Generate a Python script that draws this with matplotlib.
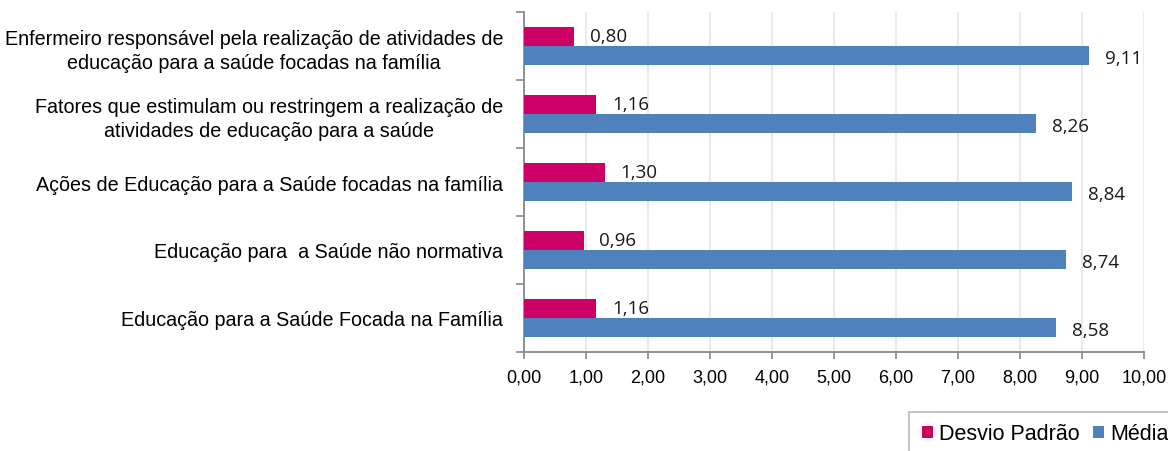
import matplotlib
matplotlib.use("Agg")
import matplotlib.pyplot as plt
import numpy as np
from matplotlib import font_manager
from matplotlib.patches import Rectangle

categories = [
    "Enfermeiro responsável pela realização de atividades de\neducação para a saúde focadas na família",
    "Fatores que estimulam ou restringem a realização de\natividades de educação para a saúde",
    "Ações de Educação para a Saúde focadas na família",
    "Educação para  a Saúde não normativa",
    "Educação para a Saúde Focada na Família",
]
desvio = [0.80, 1.16, 1.30, 0.96, 1.16]
media = [9.11, 8.26, 8.84, 8.74, 8.58]
xticks = [0, 1, 2, 3, 4, 5, 6, 7, 8, 9, 10]
series_names = ["Desvio Padrão", "Média"]

names = {f.name for f in font_manager.fontManager.ttflist}
narrow = "Liberation Sans Narrow" if "Liberation Sans Narrow" in names else "Liberation Sans"

def fmt(v):
    return f"{v:.2f}".replace(".", ",")

W, H = 1168, 452
fig = plt.figure(figsize=(W / 100, H / 100), dpi=100)
ax = fig.add_axes([524 / W, 1 - 353 / H, 620 / W, 340 / H])

y = np.arange(len(categories))
h = 0.285
off = 0.143
pink = "#CC0066"
blue = "#4F81BD"
b1 = ax.barh(y - off, desvio, height=h, color=pink, label=series_names[0], zorder=3)
b2 = ax.barh(y + off, media, height=h, color=blue, label=series_names[1], zorder=3)

for yi, v in zip(y, desvio):
    ax.annotate(fmt(v), (v, yi - off), xytext=(11.5, 0), textcoords="offset points",
                va="center", ha="left", fontsize=13.5, family="Open Sans", color="#1a1a1a")
for yi, v in zip(y, media):
    ax.annotate(fmt(v), (v, yi + off), xytext=(11.5, -1.5), textcoords="offset points",
                va="center", ha="left", fontsize=13.5, family="Open Sans", color="#1a1a1a")

ax.set_xlim(0, 10)
ax.set_ylim(len(categories) - 0.5, -0.5)
ax.set_xticks(xticks)
ax.set_xticklabels([fmt(t) for t in xticks], family=narrow, fontsize=13)
ax.set_yticks(np.arange(len(categories) + 1) - 0.5, minor=False)
ax.set_yticklabels([""] * (len(categories) + 1))
ax.set_yticks(y, minor=True)
ax.set_yticklabels(categories, minor=True, family="Liberation Sans", fontsize=14.2, ha="right")
for lab in ax.get_yticklabels(minor=True):
    lab.set_multialignment("center")
    lab.set_linespacing(1.3)
ax.tick_params(axis="y", which="minor", length=0, pad=15)
ax.tick_params(axis="y", which="major", length=6, width=1.2, color="#898989", direction="out")
ax.tick_params(axis="x", length=5, width=1.2, color="#898989", direction="out", pad=7)

ax.grid(axis="x", color="#EBEBEB", linewidth=1.5, zorder=0)
for s in ["top", "right"]:
    ax.spines[s].set_visible(False)
for s in ["left", "bottom"]:
    ax.spines[s].set_color("#898989")
    ax.spines[s].set_linewidth(1.3)

# legend frame (extends beyond the figure edge like the reference)
fig.patches.append(Rectangle((909 / W, -0.05), 0.3, 1 - 413 / H + 0.05, transform=fig.transFigure,
                             facecolor="white", edgecolor="#BFBFBF", linewidth=1.3, zorder=0))
leg = fig.legend(handles=[b1, b2], loc="center left", bbox_to_anchor=(922 / W, 1 - 435 / H), ncol=2,
                 prop={"family": "Liberation Sans", "size": 15.5}, frameon=False,
                 handlelength=0.5, handleheight=0.5, handletextpad=0.3,
                 columnspacing=0.6, borderpad=0.0, borderaxespad=0.0)

fig.savefig("out.png", dpi=100)
